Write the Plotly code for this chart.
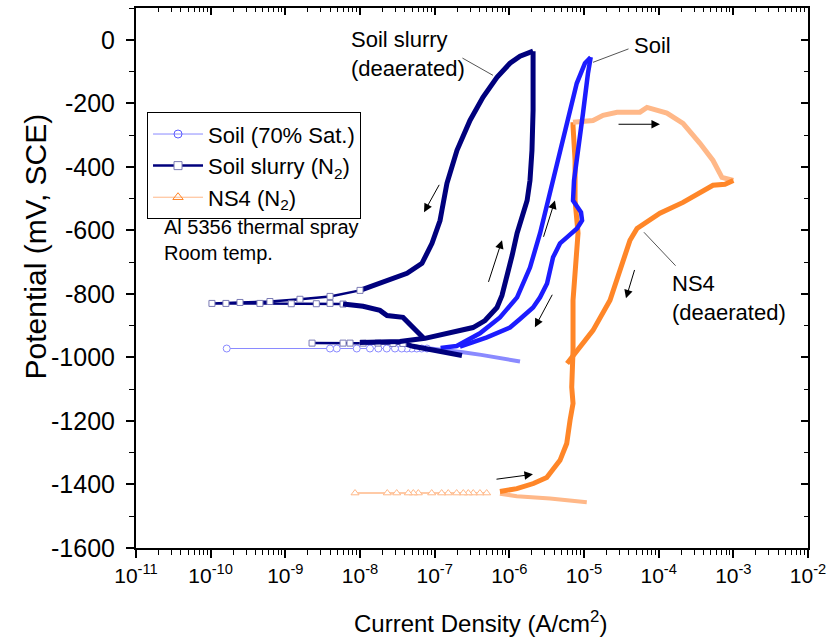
import numpy as np
import plotly.graph_objects as go

# ---------------- data (current density A/cm2, potential mV SCE) ----------------
# Soil (70% Sat.)
soil_cath_i = [1.39e-6, 9.8e-7, 6.83e-7, 4.2e-7, 2.39e-7, 1.4e-7, 8.66e-8]
soil_cath_e = [-1013, -1006, -1000, -992, -984, -977, -972]
soil_ecorr_i = [7.89e-8, 6.70e-8, 5.74e-8, 4.92e-8, 4.22e-8, 3.62e-8, 2.94e-8,
                2.28e-8, 1.76e-8, 1.36e-8, 9.04e-9, 4.88e-9, 3.97e-9, 1.64e-10]
soil_ecorr_e = [-972, -972, -972, -972, -972, -972, -972,
                -972, -972, -972, -972, -972, -972, -972]
soil_fwd_i = [1.2e-7, 1.97e-7, 4.04e-7, 7.49e-7, 1.27e-6, 1.89e-6, 2.58e-6,
              3.30e-6, 4.31e-6, 5.87e-6, 8.00e-6, 1.03e-5, 1.23e-5]
soil_fwd_e = [-970, -964, -924, -874, -811, -717, -609,
              -506, -389, -254, -137, -74, -55]
soil_rev_i = [1.23e-5, 1.13e-5, 9.70e-6, 8.32e-6, 7.35e-6, 7.13e-6, 7.82e-6,
              9.12e-6, 9.42e-6, 8.06e-6, 6.11e-6, 4.77e-6, 3.85e-6, 3.20e-6,
              2.58e-6, 2.08e-6, 1.39e-6, 1.02e-6, 5.01e-7, 2.18e-7]
soil_rev_e = [-55, -106, -231, -339, -443, -506, -521,
              -543, -569, -594, -619, -641, -685, -767,
              -811, -843, -879, -906, -937, -966]

# Soil slurry (N2)
slurry_cath_i = [2.32e-7, 1.60e-7, 8.66e-8, 5.13e-8, 3.77e-8]
slurry_cath_e = [-994, -987, -978, -965, -956]
slurry_ecorr_i = [3.77e-8, 2.77e-8, 1.74e-8, 1.10e-8, 7.35e-9, 5.93e-9, 2.28e-9]
slurry_ecorr_e = [-956, -956, -955, -955, -955, -955, -955]
slurry_fwd_i = [1.0e-8, 3.43e-8, 7.42e-8, 1.29e-7, 2.18e-7, 3.26e-7, 4.72e-7,
                6.83e-7, 7.97e-7, 9.29e-7, 1.09e-6, 1.27e-6, 1.48e-6, 1.73e-6,
                1.89e-6, 2.01e-6, 2.08e-6, 2.08e-6, 2.08e-6]
slurry_fwd_e = [-953, -950, -940, -928, -918, -906, -884,
                -843, -805, -748, -679, -609, -553, -506,
                -443, -348, -222, -96, -36]
slurry_rev_i = [2.08e-6, 1.73e-6, 1.39e-6, 1.02e-6, 6.83e-7, 4.43e-7, 2.97e-7,
                1.99e-7, 1.46e-7, 1.25e-7, 1.18e-7, 9.21e-8, 6.76e-8, 4.26e-8,
                1.85e-8, 1.0e-8]
slurry_rev_e = [-36, -43, -52, -74, -118, -181, -254,
                -348, -452, -537, -569, -641, -704, -735,
                -767, -789]
slurry_tail_i = [1.0e-8, 3.97e-9, 1.57e-9, 6.22e-10, 2.47e-10, 1.04e-10,
                 1.6e-10, 4.57e-10, 1.2e-9, 2.6e-9, 3.97e-9, 5.93e-9]
slurry_tail_e = [-789, -808, -817, -824, -827, -830,
                 -830, -830, -831, -831, -830, -832]
slurry_rc_i = [5.93e-9, 1.10e-8, 1.85e-8, 2.30e-8, 3.77e-8, 5.13e-8, 6.98e-8]
slurry_rc_e = [-832, -839, -852, -868, -874, -906, -937]

# NS4 (N2)
ns4_cath_i = [1.09e-5, 3.51e-6, 1.26e-6, 7.49e-7]
ns4_cath_e = [-1456, -1444, -1437, -1429]
ns4_ecorr_i = [4.97e-7, 4.04e-7, 3.29e-7, 2.82e-7, 2.42e-7, 1.97e-7, 1.52e-7,
               1.24e-7, 9.12e-8, 6.04e-8, 5.18e-8, 4.43e-8, 3.10e-8, 2.32e-8, 8.58e-9]
ns4_ecorr_e = [-1427, -1427, -1427, -1427, -1427, -1427, -1427,
               -1427, -1427, -1427, -1427, -1427, -1427, -1427, -1427]
ns4_fwd_i = [7.49e-7, 1.26e-6, 2.10e-6, 3.17e-6, 4.77e-6, 5.87e-6, 6.50e-6,
             7.13e-6, 6.85e-6, 7.13e-6, 7.13e-6, 7.13e-6, 8.32e-6, 7.59e-6,
             7.59e-6, 7.13e-6, 7.13e-6]
ns4_fwd_e = [-1422, -1413, -1397, -1378, -1324, -1271, -1198,
             -1145, -1094, -1009, -978, -820, -609, -506,
             -380, -272, -260]
ns4_top_i = [7.13e-6, 1.32e-5, 1.80e-5, 2.77e-5, 5.62e-5, 6.98e-5, 1.29e-4,
             2.12e-4, 3.57e-4, 5.34e-4, 7.04e-4, 1.0e-3]
ns4_top_e = [-260, -254, -238, -228, -228, -213, -231,
             -263, -326, -380, -433, -443]
ns4_rev_i = [1.0e-3, 7.73e-4, 5.34e-4, 3.57e-4, 2.12e-4, 1.04e-4, 5.62e-5,
             5.13e-5, 4.13e-5, 3.03e-5, 2.23e-5, 1.32e-5, 8.06e-6, 5.93e-6]
ns4_rev_e = [-443, -455, -458, -483, -512, -546, -584,
             -594, -631, -726, -820, -915, -978, -1019]

x_tick_exps = [-11, -10, -9, -8, -7, -6, -5, -4, -3, -2]
y_tick_vals = [0, -200, -400, -600, -800, -1000, -1200, -1400, -1600]

# ---------------- styles ----------------
FONT = "Liberation Sans, Arial, sans-serif"
BLUE, BLUE_L = "#1c1cff", "#8a8aff"
NAVY, NAVY_L = "#00007d", "#7a7ab4"
ORNG, ORNG_L = "#ff8628", "#ffb888"

fig = go.Figure()

# legend-only entries
fig.add_trace(go.Scatter(x=[None], y=[None], mode="lines+markers", name="Soil (70% Sat.)",
                         line=dict(color=BLUE_L, width=1),
                         marker=dict(symbol="circle-open", size=8, color="#5a5aff", line=dict(width=1))))
fig.add_trace(go.Scatter(x=[None], y=[None], mode="lines+markers", name="Soil slurry (N<sub>2</sub>)",
                         line=dict(color=NAVY, width=2.5),
                         marker=dict(symbol="square", size=8, color="white",
                                     line=dict(color=NAVY_L, width=1))))
fig.add_trace(go.Scatter(x=[None], y=[None], mode="lines+markers", name="NS4 (N<sub>2</sub>)",
                         line=dict(color=ORNG_L, width=1),
                         marker=dict(symbol="triangle-up-open", size=9, color=ORNG, line=dict(width=1))))


def dense(x, y, color, width=4.5):
    fig.add_trace(go.Scatter(x=x, y=y, mode="lines", showlegend=False, hoverinfo="skip",
                             line=dict(color=color, width=width)))


def sparse(x, y, color, mcolor, symbol, width=1.2, size=6):
    fig.add_trace(go.Scatter(x=x, y=y, mode="lines+markers", showlegend=False, hoverinfo="skip",
                             line=dict(color=color, width=width),
                             marker=dict(symbol=symbol, size=size, color="white",
                                         line=dict(color=mcolor, width=1))))


# NS4
dense(ns4_cath_i, ns4_cath_e, ORNG_L, 4)
sparse(ns4_ecorr_i, ns4_ecorr_e, ORNG_L, ORNG_L, "triangle-up", 1.5, 7)
dense(ns4_fwd_i, ns4_fwd_e, ORNG, 5)
dense(ns4_top_i, ns4_top_e, ORNG_L, 5)
dense(ns4_rev_i, ns4_rev_e, ORNG, 5)
# Soil
dense(soil_cath_i, soil_cath_e, BLUE_L, 4)
sparse(soil_ecorr_i, soil_ecorr_e, BLUE_L, BLUE_L, "circle", 1.2, 7)
dense(soil_fwd_i, soil_fwd_e, BLUE, 4.5)
dense(soil_rev_i, soil_rev_e, BLUE, 4.5)
# Soil slurry
dense(slurry_cath_i, slurry_cath_e, NAVY, 5)
sparse(slurry_ecorr_i, slurry_ecorr_e, NAVY, NAVY_L, "square", 2.5, 6)
dense(slurry_fwd_i, slurry_fwd_e, NAVY, 5)
dense(slurry_rev_i, slurry_rev_e, NAVY, 5)
sparse(slurry_tail_i, slurry_tail_e, NAVY, NAVY_L, "square", 2.5, 6)
dense(slurry_rc_i, slurry_rc_e, NAVY, 5)

# dummy trace for mirrored axes
fig.add_trace(go.Scatter(x=[], y=[], xaxis="x2", yaxis="y2", showlegend=False, hoverinfo="skip"))

# ---------------- annotations ----------------
arrows = [  # (tail current, tail mV, head current, head mV)
    (1.18e-7, -452, 7.2e-8, -543),
    (5.18e-7, -767, 7.98e-7, -631),
    (2.83e-6, -625, 4.08e-6, -506),
    (3.85e-6, -798, 2.2e-6, -905),
    (2.77e-5, -266, 1.04e-4, -266),
    (4.82e-5, -720, 3.65e-5, -814),
    (6.43e-7, -1384, 2.07e-6, -1368),
]
for ti, te, hi, he in arrows:
    fig.add_annotation(x=np.log10(hi), y=he, ax=np.log10(ti), ay=te, xref="x", yref="y",
                       axref="x", ayref="y", text="", showarrow=True, arrowhead=2,
                       arrowsize=1.7, arrowwidth=1, arrowcolor="black")

leaders = [  # (from current, mV, to current, mV)
    (2.25e-7, -55, 6.04e-7, -112),
    (4.13e-5, -27, 1.32e-5, -71),
    (1.76e-4, -716, 6.35e-5, -606),
]
for a_i, a_e, b_i, b_e in leaders:
    fig.add_annotation(x=np.log10(b_i), y=b_e, ax=np.log10(a_i), ay=a_e, xref="x", yref="y",
                       axref="x", ayref="y", text="", showarrow=True, arrowhead=0,
                       arrowwidth=1, arrowcolor="#555555", standoff=0, startstandoff=0)

labels = [  # (text, current, mV)
    ("Soil slurry<br>(deaerated)", 7.1e-9, -46),
    ("Soil", 4.4e-5, -17),
    ("NS4<br>(deaerated)", 1.42e-4, -814),
]
for txt, ci, ce in labels:
    fig.add_annotation(x=np.log10(ci), y=ce, xref="x", yref="y", text=txt, showarrow=False,
                       xanchor="left", yanchor="middle", align="left",
                       font=dict(family=FONT, size=22, color="black"))
fig.add_annotation(x=np.log10(2.23e-11), y=-631, xref="x", yref="y",
                   text="Al 5356 thermal spray<br>Room temp.", showarrow=False,
                   xanchor="left", yanchor="middle", align="left",
                   font=dict(family=FONT, size=20, color="black"))

# axis titles as annotations (placed like the reference)
fig.add_annotation(x=-0.150, y=-650, xref="paper", yref="y", text="Potential (mV, SCE)",
                   textangle=-90, showarrow=False, xanchor="center", yanchor="middle",
                   font=dict(family=FONT, size=30, color="black"))
fig.add_annotation(x=0.512, y=-0.137, xref="paper", yref="paper",
                   text="Current Density (A/cm<sup>2</sup>)", showarrow=False,
                   xanchor="center", yanchor="middle",
                   font=dict(family=FONT, size=24, color="black"))

# ---------------- axes / layout ----------------
minor_x = [k * 10.0 ** e for e in x_tick_exps[:-1] for k in range(2, 10)]
xr = [x_tick_exps[0], x_tick_exps[-1]]
yr = [y_tick_vals[-1], 100]

axis_common = dict(showline=True, linecolor="black", linewidth=2, showgrid=False,
                   zeroline=False, tickcolor="black", tickwidth=1.5, automargin=False)

fig.update_layout(
    width=828, height=638,
    margin=dict(l=136, r=20, t=8, b=90),
    paper_bgcolor="white", plot_bgcolor="white",
    font=dict(family=FONT, size=21, color="black"),
    xaxis=dict(type="log", range=xr, tickmode="array",
               tickvals=[10.0 ** e for e in x_tick_exps],
               ticktext=["10<sup>%d</sup>" % e for e in x_tick_exps],
               ticks="outside", ticklen=8, ticklabeloverflow="allow",
               minor=dict(tickmode="array", tickvals=minor_x, ticks="outside",
                          ticklen=5, tickcolor="black", tickwidth=1),
               tickfont=dict(size=21), **axis_common),
    yaxis=dict(range=yr, tickmode="array", tickvals=y_tick_vals,
               ticktext=[str(v) for v in y_tick_vals],
               ticks="outside", ticklen=8, ticklabelstandoff=6,
               minor=dict(dtick=100, ticks="outside", ticklen=5, tickcolor="black", tickwidth=1),
               tickfont=dict(size=25), **axis_common),
    xaxis2=dict(type="log", range=xr, overlaying="x", side="top", showticklabels=False,
                tickmode="array", tickvals=[10.0 ** e for e in x_tick_exps],
                ticks="inside", ticklen=7,
                minor=dict(tickmode="array", tickvals=minor_x, ticks="inside",
                           ticklen=4, tickcolor="black", tickwidth=1),
                **axis_common),
    yaxis2=dict(range=yr, overlaying="y", side="right", showticklabels=False,
                tickmode="array", tickvals=y_tick_vals, ticks="inside", ticklen=7,
                minor=dict(dtick=100, ticks="inside", ticklen=4, tickcolor="black", tickwidth=1),
                **axis_common),
    legend=dict(x=0.0164, y=0.807, xanchor="left", yanchor="top",
                bgcolor="white", bordercolor="black", borderwidth=1,
                font=dict(family=FONT, size=22), itemwidth=50, tracegroupgap=0),
    showlegend=True,
)

# remove the default 8px page margin so the 828x638 figure fills the window; hide the modebar
fig.write_html("out.html", config={"displayModeBar": False},
               post_script="document.body.style.margin='0';")
